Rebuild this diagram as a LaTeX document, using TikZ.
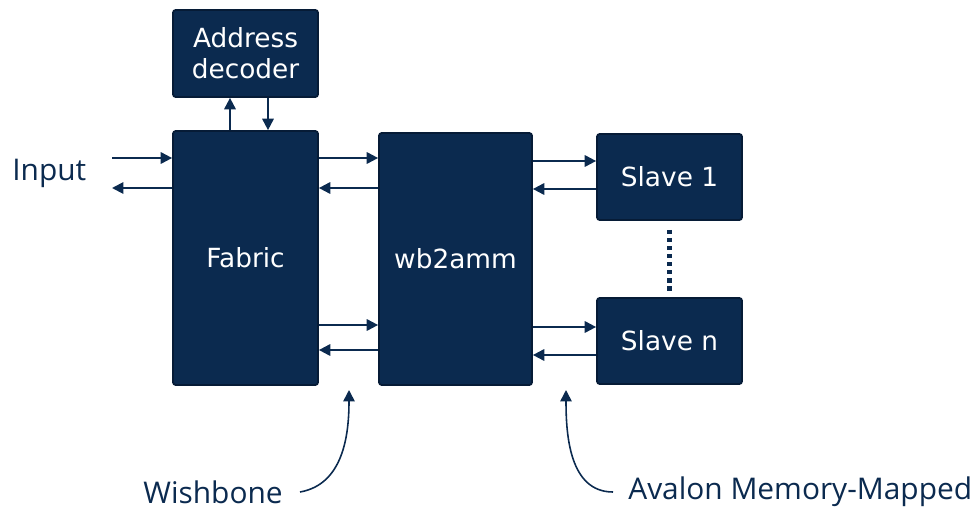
\documentclass[tikz,border=0pt]{standalone}
\usepackage{fontspec}
\setmainfont{DejaVu Sans}
\newfontfamily\labelfont{Open Sans}
\definecolor{navy}{HTML}{0B2A4F}
\definecolor{navyedge}{HTML}{061B36}
\usetikzlibrary{arrows.meta, positioning}

\begin{document}
\begin{tikzpicture}[x=0.02cm, y=-0.02cm,
      blk/.style={draw=navyedge, line width=1pt, fill=navy, rounded corners=1.5pt,
                  text=white, font=\fontsize{15}{17.5}\selectfont, align=center,
                  inner sep=0pt},
      arr/.style={-{Triangle[length=6.5pt, width=6.5pt]}, line width=1.1pt, navy},
      lbl/.style={text=navy, font=\labelfont\fontsize{17}{20}\selectfont, inner sep=0pt}
    ]
      \useasboundingbox (0,0) rectangle (976,510);

      \node[blk, minimum width=2.9cm, minimum height=1.74cm] (addr) at (245.5,53.5) {Address\\decoder};
      \node[blk, minimum width=2.9cm, minimum height=5.08cm] (fabric) at (245.5,258) {Fabric};
      \node[blk, minimum width=3.06cm, minimum height=5.04cm] (wb) at (455.5,259) {wb2amm};
      \node[blk, minimum width=2.9cm, minimum height=1.72cm] (s1) at (669.5,177) {Slave 1};
      \node[blk, minimum width=2.9cm, minimum height=1.72cm] (sn) at (669.5,341) {Slave n};

      % address decoder
      \draw[arr] (fabric.north -| 230,0) -- (addr.south -| 230,0);
      \draw[arr] (addr.south -| 268,0) -- (fabric.north -| 268,0);

      % input
      \node[lbl, anchor=west] (inp) at (12,173) {Input};
      \coordinate (in1) at (112,158);
      \coordinate (in2) at (112,188);
      \draw[arr] (in1) -- (fabric.west |- in1);
      \draw[arr] (fabric.west |- in2) -- (in2);

      % fabric <-> wb2amm
      \draw[arr] (fabric.east |- 0,158) -- (wb.west |- 0,158);
      \draw[arr] (wb.west |- 0,188) -- (fabric.east |- 0,188);
      \draw[arr] (fabric.east |- 0,325) -- (wb.west |- 0,325);
      \draw[arr] (wb.west |- 0,350) -- (fabric.east |- 0,350);

      % wb2amm <-> slaves
      \draw[arr] (wb.east |- 0,161) -- (s1.west |- 0,161);
      \draw[arr] (s1.west |- 0,189) -- (wb.east |- 0,189);
      \draw[arr] (wb.east |- 0,327) -- (sn.west |- 0,327);
      \draw[arr] (sn.west |- 0,355) -- (wb.east |- 0,355);

      \draw[navy, line width=2.8pt, dash pattern=on 2.4pt off 2.2pt]
        ([yshift=-0.18cm]s1.south) -- ([yshift=0.1cm]sn.north);

      % bus labels
      \node[lbl, anchor=east] (wish) at (283,492) {Wishbone};
      \node[lbl, anchor=west] (aval) at (628,492) {Avalon Memory-Mapped};
      \coordinate (wtip) at (349,390);
      \coordinate (atip) at (566,390);
      \draw[arr, line width=0.9pt] ([xshift=0.34cm]wish.east) to[out=10, in=-90] (wtip);
      \draw[arr, line width=0.9pt] ([xshift=-0.3cm]aval.west) to[out=180, in=-90] (atip);
    \end{tikzpicture}
\end{document}
